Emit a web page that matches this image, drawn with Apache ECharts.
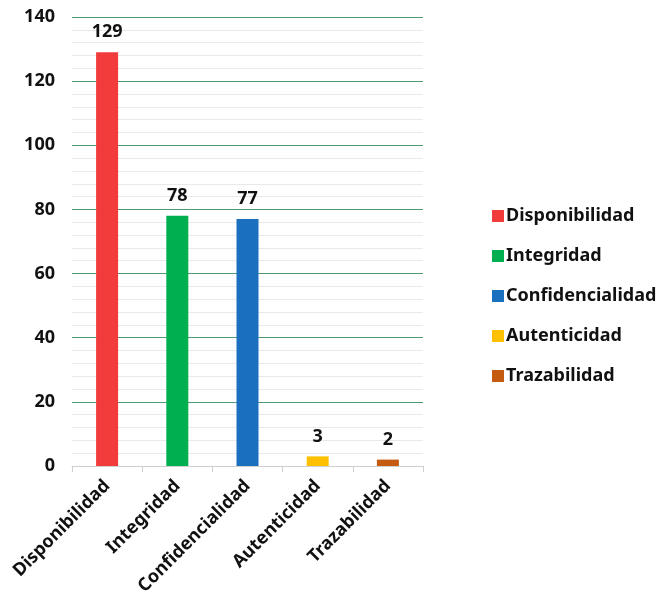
<!DOCTYPE html>
<html>
<head>
<meta charset="utf-8">
<script src="https://cdn.jsdelivr.net/npm/echarts@6/dist/echarts.min.js"></script>
<style>
  html, body { margin: 0; padding: 0; background: #ffffff; }
  #chart { width: 661px; height: 604px; }
</style>
</head>
<body>
<div id="chart"></div>
<script>
// Categories and counts
const categories = ['Disponibilidad', 'Integridad', 'Confidencialidad', 'Autenticidad', 'Trazabilidad'];
const counts = [129, 78, 77, 3, 2];
const colors = ['#f23b3b', '#00b050', '#1a6fbe', '#ffc000', '#c55a11'];
const yTicks = [0, 20, 40, 60, 80, 100, 120, 140];

const FONT = '"Noto Sans", "Open Sans", sans-serif';

// One series per category so each gets its own legend entry; stacked so bars stay centred
const series = categories.map((name, i) => ({
  name: name,
  type: 'bar',
  stack: 'all',
  barWidth: 22,
  itemStyle: { color: colors[i] },
  label: {
    show: true,
    position: 'top',
    distance: 11,
    color: '#111',
    fontFamily: FONT,
    fontWeight: 'bold',
    fontSize: 18
  },
  data: categories.map((c, j) => (j === i ? counts[i] : null))
}));

const chart = echarts.init(document.getElementById('chart'));
chart.setOption({
  animation: false,
  backgroundColor: '#ffffff',
  grid: { left: 72, right: 238, top: 17, bottom: 138, containLabel: false },
  legend: {
    orient: 'vertical',
    left: 487,
    top: 202,
    itemWidth: 12,
    itemHeight: 12,
    itemGap: 22,
    icon: 'rect',
    textStyle: { fontFamily: FONT, fontWeight: 'bold', fontSize: 18, lineHeight: 18, color: '#111', padding: [0, 0, 0, -3] },
    data: categories
  },
  xAxis: {
    type: 'category',
    data: categories,
    axisLine: { lineStyle: { color: '#cfcfcf', width: 1 } },
    axisTick: { show: true, length: 6, lineStyle: { color: '#cfcfcf' } },
    axisLabel: {
      rotate: 45,
      interval: 0,
      margin: 17,
      color: '#111',
      fontFamily: FONT,
      fontWeight: 'bold',
      fontSize: 18
    }
  },
  yAxis: {
    type: 'value',
    min: yTicks[0],
    max: yTicks[yTicks.length - 1],
    interval: 20,
    axisLine: { show: false },
    axisTick: { show: false },
    axisLabel: {
      margin: 17,
      color: '#111',
      fontFamily: FONT,
      fontWeight: 'bold',
      fontSize: 18
    },
    splitLine: { show: true, lineStyle: { color: '#4f9a70', width: 1 } },
    minorTick: { show: false, splitNumber: 5 },
    minorSplitLine: { show: true, lineStyle: { color: '#e9e9e9', width: 1 } }
  },
  series: series
});
</script>
</body>
</html>
